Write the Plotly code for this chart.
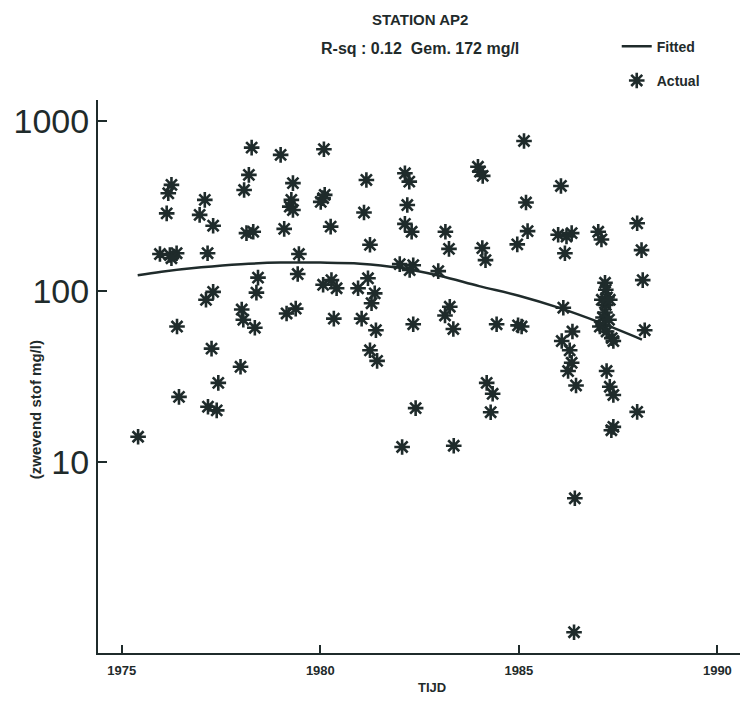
import plotly.graph_objects as go

# Actual measurements (year, mg/l)
actual_year = [
    1978.27, 1979.00, 1980.09, 1978.20, 1978.08, 1976.25, 1976.17, 1977.09, 1979.31, 1979.27,
    1979.23, 1979.31, 1976.13, 1976.96, 1977.30, 1978.14, 1978.31, 1979.09, 1975.96, 1976.21,
    1976.38, 1976.25, 1977.16, 1979.46, 1978.43, 1979.43, 1977.30, 1977.12, 1978.39, 1981.16,
    1982.13, 1982.24, 1983.97, 1984.02, 1984.09, 1980.11, 1980.07, 1980.01, 1981.10, 1982.19,
    1980.26, 1982.13, 1982.30, 1983.15, 1983.24, 1984.08, 1984.16, 1981.25, 1984.96, 1982.00,
    1982.34, 1982.25, 1982.97, 1980.07, 1980.28, 1980.41, 1980.95, 1981.20, 1981.37, 1981.29,
    1985.13, 1986.06, 1985.18, 1985.22, 1985.99, 1986.20, 1986.33, 1986.16, 1987.00, 1987.08,
    1987.98, 1988.09, 1988.12, 1987.17, 1987.19, 1987.22, 1987.19, 1987.17, 1987.12, 1987.09,
    1987.29, 1987.12, 1987.27, 1987.34, 1978.02, 1978.06, 1978.35, 1979.15, 1979.38, 1976.39,
    1977.26, 1977.99, 1977.43, 1976.44, 1977.17, 1977.39, 1975.41, 1980.34, 1981.04, 1981.40,
    1982.34, 1983.26, 1983.14, 1983.35, 1984.44, 1984.98, 1985.07, 1981.25, 1981.43, 1984.19,
    1984.34, 1984.29, 1982.40, 1982.06, 1983.36, 1986.12, 1987.04, 1987.21, 1987.38, 1988.17,
    1986.35, 1986.08, 1986.28, 1986.33, 1986.24, 1986.44, 1987.21, 1987.29, 1987.38, 1987.98,
    1987.38, 1987.33, 1986.41, 1986.39,
]
actual_value = [
    695, 630, 680, 481, 392, 420, 375, 343, 430, 343,
    313, 299, 286, 280, 242, 219, 223, 232, 165, 163,
    167, 156, 167, 165, 120, 126, 99, 89, 98, 449,
    491, 439, 536, 502, 474, 367, 351, 334, 289, 320,
    239, 248, 223, 223, 177, 179, 152, 187, 188, 144,
    142, 133, 131, 109, 116, 104, 104, 119, 97, 85,
    760, 414, 331, 225, 214, 209, 219, 167, 223, 201,
    250, 174, 116, 112, 102, 92, 83, 75, 70, 89,
    89, 63, 68, 53, 78, 68, 61, 74, 79, 62,
    46, 36, 29, 24, 21, 20, 14, 69, 69, 59,
    64, 81, 72, 60, 64, 63, 62, 45, 39, 29,
    25, 19.5, 20.6, 12.2, 12.4, 80, 62, 58, 51, 59,
    58, 51, 45, 38, 34, 28, 34, 27.5, 24.6, 19.6,
    16.0, 15.3, 6.1, 1.0,
]

# Fitted curve
fit_year = [1975.4, 1976, 1977, 1978, 1979, 1980, 1981, 1982, 1983, 1984, 1985, 1986, 1987, 1988.1]
fit_value = [124, 130, 138, 144, 147, 147, 145, 137, 123, 107, 94, 80, 66, 52]

x_ticks = [1975, 1980, 1985, 1990]
y_ticks = [10, 100, 1000]
y_ticktext = ["10", "100", "1000"]

INK = "#1f2b2b"
FONT = "Liberation Sans"

fig = go.Figure()
fig.add_trace(go.Scatter(
    x=fit_year, y=fit_value, mode="lines", name="Fitted",
    line=dict(color=INK, width=2.5, shape="spline"),
    legendgroup="a",
))
fig.add_trace(go.Scatter(
    x=actual_year, y=actual_value, mode="markers", name="Actual",
    marker=dict(symbol="asterisk-open", size=13, color=INK,
                line=dict(color=INK, width=2.6)),
    legendgroup="b",
))

fig.update_layout(
    width=743, height=724,
    margin=dict(l=98, r=3, t=100, b=71),
    paper_bgcolor="white", plot_bgcolor="white",
    font=dict(family=FONT, color=INK),
    showlegend=True,
    legend=dict(
        x=0.808, y=1.1254, xanchor="left", yanchor="top",
        font=dict(family=FONT, size=14, weight="bold", color=INK),
        tracegroupgap=13, itemwidth=30, bgcolor="rgba(0,0,0,0)",
    ),
    xaxis=dict(
        range=[1974.40, 1990.57], tickvals=x_ticks,
        ticks="inside", ticklen=8, tickwidth=1.5, tickcolor=INK,
        showline=True, linewidth=2, linecolor=INK,
        showgrid=False, zeroline=False, ticklabelstandoff=4,
        tickfont=dict(family=FONT, size=13, weight="bold", color=INK),
    ),
    yaxis=dict(
        type="log", range=[-0.122, 3.121], tickvals=y_ticks, ticktext=y_ticktext,
        ticks="inside", ticklen=9, tickwidth=1.5, tickcolor=INK,
        showline=True, linewidth=2, linecolor=INK,
        showgrid=False, zeroline=False, ticklabelstandoff=0,
        tickfont=dict(family=FONT, size=34, color=INK),
    ),
    annotations=[
        dict(text="STATION AP2", xref="paper", yref="paper", x=0.5016, y=1.1447,
             yanchor="middle", showarrow=False,
             font=dict(family=FONT, size=15, weight="bold", color=INK)),
        dict(text="R-sq : 0.12  Gem. 172 mg/l", xref="paper", yref="paper", x=0.5016, y=1.094,
             yanchor="middle", showarrow=False,
             font=dict(family=FONT, size=16, weight="bold", color=INK)),
        dict(text="TIJD", xref="paper", yref="paper", x=0.520, y=-0.0615,
             yanchor="middle", showarrow=False,
             font=dict(family=FONT, size=13, weight="bold", color=INK)),
        dict(text="(zwevend stof mg/l)", xref="paper", yref="paper", x=-0.0981, y=0.439,
             xanchor="center", yanchor="middle",
             textangle=-90, showarrow=False,
             font=dict(family=FONT, size=15, weight="bold", color=INK)),
    ],
)

fig.write_html("out.html")
